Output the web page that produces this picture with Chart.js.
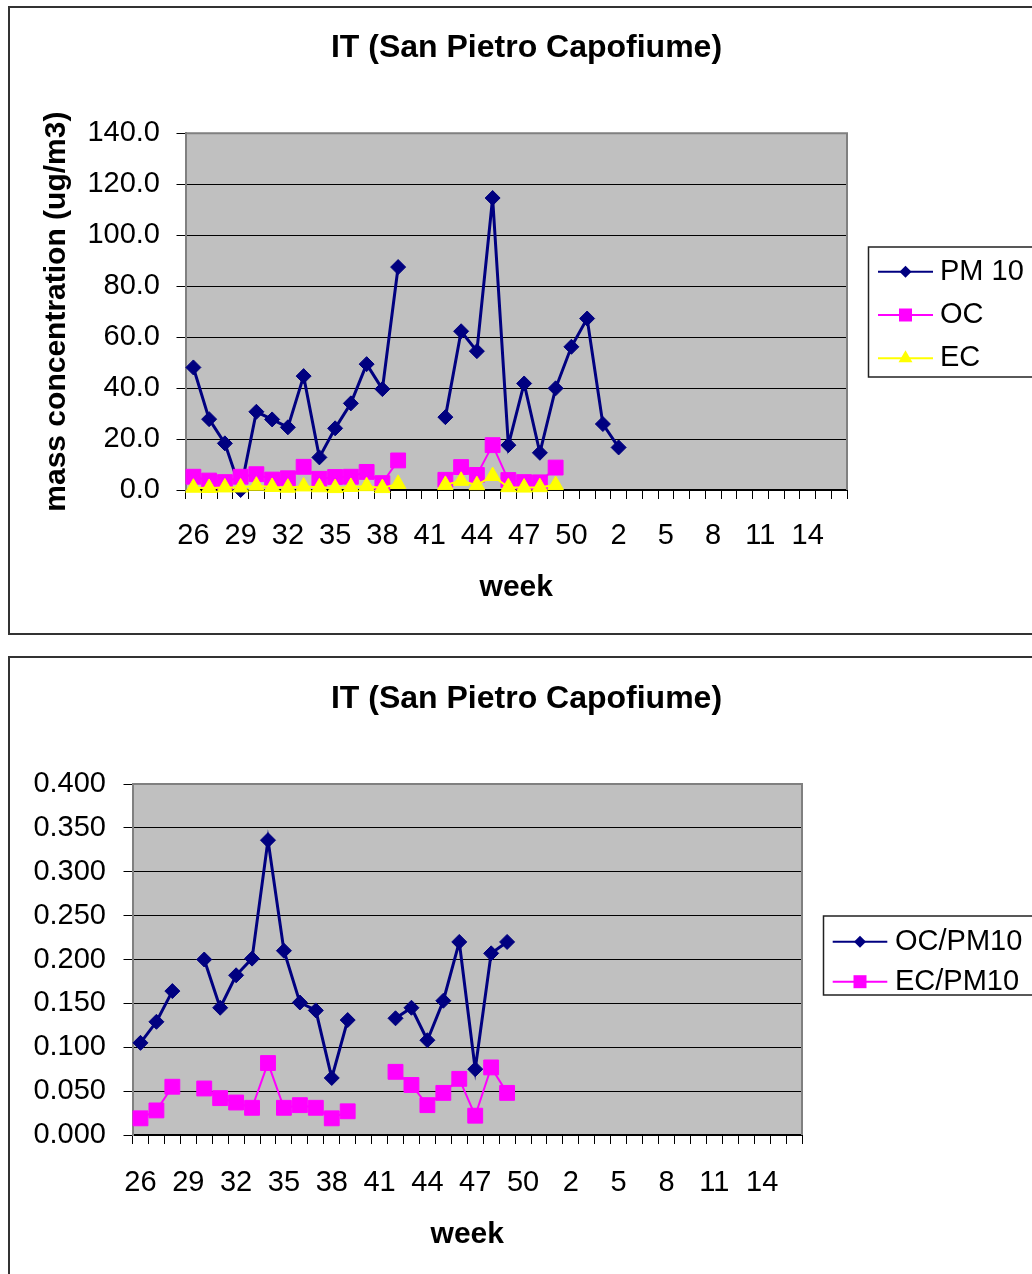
<!DOCTYPE html>
<html>
<head>
<meta charset="utf-8">
<script src="https://cdn.jsdelivr.net/npm/chart.js@4.4.1/dist/chart.umd.min.js"></script>
<style>
    html, body { margin: 0; padding: 0; background: #fff; overflow: hidden; width: 1032px; height: 1274px; }
    .moldura { position: absolute; border: 2px solid #333; box-sizing: border-box; }
    canvas { position: absolute; left: 0; }
</style>
</head>
<body>
<div class="moldura" style="left:8px; top:6px; width:1060px; height:629px;"></div>
<div class="moldura" style="left:8px; top:656px; width:1060px; height:640px;"></div>
<canvas id="graficoMassa" width="1060" height="645" style="top:0px"></canvas>
<canvas id="graficoRazao" width="1060" height="624" style="top:650px"></canvas>
<script>
// DADOS --------------------------
const semanas = ["26", "27", "28", "29", "30", "31", "32", "33", "34", "35", "36", "37", "38", "39", "40",
    "41", "42", "43", "44", "45", "46", "47", "48", "49", "50", "51",
    "1", "2", "3", "4", "5", "6", "7", "8", "9", "10", "11", "12", "13", "14", "15", "16"];

const pm10 = [48.1, 27.8, 18.3, 0.0, 30.7, 27.7, 24.6, 44.7, 12.8, 24.2, 34.0, 49.4, 39.6, 87.5, null,
    null, 28.6, 62.3, 54.5, 114.6, 17.6, 41.8, 14.6, 39.9, 56.2, 67.3,
    25.9, 16.7, null, null, null, null, null, null, null, null, null, null, null, null, null, null];

const oc = [5.2, 3.7, 3.1, 5.2, 6.2, 4.1, 4.6, 9.1, 4.4, 5.1, 5.2, 7.1, 2.7, 11.6, null,
    null, 4.0, 9.0, 5.9, 17.6, 3.9, 3.1, 3.0, 8.8, null, null,
    null, null, null, null, null, null, null, null, null, null, null, null, null, null, null, null];

const ec = [0.9, 0.8, 1.0, 1.0, 1.7, 1.2, 0.9, 1.4, 1.05, 0.75, 1.2, 1.5, 0.75, 2.4, null,
    null, 2.0, 3.6, 1.9, 5.5, 1.1, 0.95, 1.1, 1.95, null, null,
    null, null, null, null, null, null, null, null, null, null, null, null, null, null, null, null];

const ocPm10 = [0.105, 0.129, 0.164, null, 0.200, 0.145, 0.182, 0.201, 0.336, 0.210, 0.151, 0.142, 0.065, 0.131, null,
    null, 0.133, 0.145, 0.108, 0.153, 0.220, 0.075, 0.207, 0.220, null, null,
    null, null, null, null, null, null, null, null, null, null, null, null, null, null, null, null];

const ecPm10 = [0.019, 0.028, 0.055, null, 0.053, 0.042, 0.037, 0.031, 0.082, 0.031, 0.034, 0.031, 0.019, 0.027, null,
    null, 0.072, 0.057, 0.034, 0.048, 0.064, 0.022, 0.077, 0.048, null, null,
    null, null, null, null, null, null, null, null, null, null, null, null, null, null, null, null];

// ESTILO --------------------------
const FONTE = "'Liberation Sans', Arial, sans-serif";
const CORES = { navy: "#000080", rosa: "#FF00FF", amarelo: "#FFFF00", fundo: "#C0C0C0", borda: "#808080" };
const TITULO = "IT (San Pietro Capofiume)";

// fundo cinza do plot + borda cinza em cima e na direita
const fundoPlot = {
    id: "fundoPlot",
    beforeDraw(chart) {
        const { ctx, chartArea: a } = chart;
        ctx.save();
        ctx.fillStyle = CORES.fundo;
        ctx.fillRect(a.left, a.top, a.width, a.height);
        ctx.restore();
    },
    beforeDatasetsDraw(chart) {
        const { ctx, chartArea: a } = chart;
        ctx.save();
        ctx.strokeStyle = CORES.borda;
        ctx.lineWidth = 2;
        ctx.beginPath();
        ctx.moveTo(a.left, a.top);
        ctx.lineTo(a.right, a.top);
        ctx.lineTo(a.right, a.bottom);
        ctx.stroke();
        ctx.restore();
    }
};

function desenhaMarcador(ctx, estilo, x, y, r) {
    ctx.beginPath();
    if (estilo === "rectRot") {
        ctx.moveTo(x, y - r); ctx.lineTo(x + r, y); ctx.lineTo(x, y + r); ctx.lineTo(x - r, y);
    } else if (estilo === "rect") {
        ctx.rect(x - r, y - r, 2 * r, 2 * r);
    } else {
        ctx.moveTo(x, y - r); ctx.lineTo(x + r * 0.87, y + r * 0.5); ctx.lineTo(x - r * 0.87, y + r * 0.5);
    }
    ctx.closePath();
    ctx.fill();
}

// legenda com caixa, no estilo do Excel
const legendaCaixa = {
    id: "legendaCaixa",
    afterDraw(chart, args, o) {
        const ctx = chart.ctx;
        ctx.save();
        ctx.fillStyle = "#fff";
        ctx.fillRect(o.left, o.top, o.width, o.height);
        ctx.strokeStyle = "#222";
        ctx.lineWidth = 1.5;
        ctx.strokeRect(o.left, o.top, o.width, o.height);
        const tamanhos = { rectRot: 6, rect: 6.5, triangle: 8 };
        chart.data.datasets.forEach((ds, i) => {
            const y = o.primeiraLinha + i * o.espacoLinha;
            ctx.strokeStyle = ds.borderColor;
            ctx.lineWidth = 2;
            ctx.beginPath();
            ctx.moveTo(o.linhaDe, y);
            ctx.lineTo(o.linhaAte, y);
            ctx.stroke();
            ctx.fillStyle = ds.borderColor;
            desenhaMarcador(ctx, ds.pointStyle, (o.linhaDe + o.linhaAte) / 2, y, tamanhos[ds.pointStyle]);
            ctx.fillStyle = "#000";
            ctx.font = `29px ${FONTE}`;
            ctx.textAlign = "left";
            ctx.textBaseline = "middle";
            ctx.fillText(ds.label, o.textoX, y);
        });
        ctx.restore();
    }
};

function serie(label, data, cor, estilo, raio, espessura, ordem) {
    return {
        label: label, data: data,
        borderColor: cor, backgroundColor: cor, borderWidth: espessura,
        pointStyle: estilo, pointRadius: raio, pointHoverRadius: raio,
        pointBackgroundColor: cor, pointBorderColor: cor, pointBorderWidth: 1,
        tension: 0, spanGaps: false, clip: false, order: ordem,
    };
}

function eixoSemanas(padTicks, padTitulo) {
    return {
        type: "category",
        offset: true,
        grid: { offset: true, drawOnChartArea: false, drawTicks: true, tickLength: 9, color: "#000", lineWidth: 1 },
        border: { display: true, color: "#000", width: 2 },
        ticks: {
            autoSkip: false, maxRotation: 0, minRotation: 0, padding: padTicks, color: "#000",
            font: { family: FONTE, size: 29 },
            callback: function (value, index) { return index % 3 === 0 ? this.getLabelForValue(value) : ""; },
        },
        title: { display: true, text: "week", color: "#000", font: { family: FONTE, size: 30, weight: "bold" }, padding: { top: 0, bottom: padTitulo } },
        afterFit: (s) => { s.height = 130; },
    };
}

function eixoEspaco(largura) {
    return {
        type: "linear", axis: "y", position: "right", display: true,
        grid: { display: false }, border: { display: false }, ticks: { display: false },
        afterFit: (s) => { s.width = largura; },
    };
}

function tituloGrafico(padTopo, padBaixo) {
    return { display: true, text: TITULO, color: "#000", font: { family: FONTE, size: 32, weight: "bold" }, padding: { top: padTopo, bottom: padBaixo } };
}

// GRAFICO DE MASSA --------------------------
new Chart(document.getElementById("graficoMassa").getContext("2d"), {
    type: "line",
    data: {
        labels: semanas,
        datasets: [
            serie("PM 10", pm10, CORES.navy, "rectRot", 7.5, 3, 3),
            serie("OC", oc, CORES.rosa, "rect", 10.5, 2, 2),
            serie("EC", ec, CORES.amarelo, "triangle", 9, 2, 1),
        ]
    },
    options: {
        responsive: false,
        animation: false,
        events: [],
        layout: { padding: { left: 8, right: 15, top: 0, bottom: 25 } },
        scales: {
            x: eixoSemanas(19.6, 14),
            y: {
                min: 0, max: 140,
                ticks: { stepSize: 20, padding: 16.5, color: "#000", font: { family: FONTE, size: 29 }, callback: (v) => v.toFixed(1) },
                grid: { color: "#000", lineWidth: 1, tickLength: 9, drawTicks: true },
                border: { display: true, color: CORES.borda, width: 2 },
                title: { display: true, text: "mass concentration (ug/m3)", color: "#000", font: { family: FONTE, size: 30, weight: "bold" }, padding: { top: 31, bottom: 0 } },
                afterFit: (s) => { s.width = 177.5; },
            },
            espaco: eixoEspaco(198),
        },
        plugins: {
            legend: { display: false },
            tooltip: { enabled: false },
            title: tituloGrafico(28.8, 66.1),
            legendaCaixa: { left: 868.5, top: 247, width: 200, height: 130, primeiraLinha: 271.7, espacoLinha: 43.3, linhaDe: 878, linhaAte: 933, textoX: 940 },
        },
    },
    plugins: [fundoPlot, legendaCaixa],
});

// GRAFICO DE RAZAO --------------------------
new Chart(document.getElementById("graficoRazao").getContext("2d"), {
    type: "line",
    data: {
        labels: semanas,
        datasets: [
            serie("OC/PM10", ocPm10, CORES.navy, "rectRot", 7.5, 3, 2),
            serie("EC/PM10", ecPm10, CORES.rosa, "rect", 10.5, 2, 1),
        ]
    },
    options: {
        responsive: false,
        animation: false,
        events: [],
        layout: { padding: { left: 8, right: 15, top: 0, bottom: 9 } },
        scales: {
            x: eixoSemanas(22, 12),
            y: {
                min: 0, max: 0.4,
                ticks: { stepSize: 0.05, padding: 17.5, color: "#000", font: { family: FONTE, size: 29 }, callback: (v) => v.toFixed(3) },
                grid: { color: "#000", lineWidth: 1, tickLength: 9, drawTicks: true },
                border: { display: true, color: CORES.borda, width: 2 },
                afterFit: (s) => { s.width = 124.5; },
            },
            espaco: eixoEspaco(243),
        },
        plugins: {
            legend: { display: false },
            tooltip: { enabled: false },
            title: tituloGrafico(29.8, 65.8),
            legendaCaixa: { left: 823.5, top: 266, width: 240, height: 79, primeiraLinha: 291.7, espacoLinha: 40, linhaDe: 832.7, linhaAte: 887.3, textoX: 895 },
        },
    },
    plugins: [fundoPlot, legendaCaixa],
});
</script>
</body>
</html>
